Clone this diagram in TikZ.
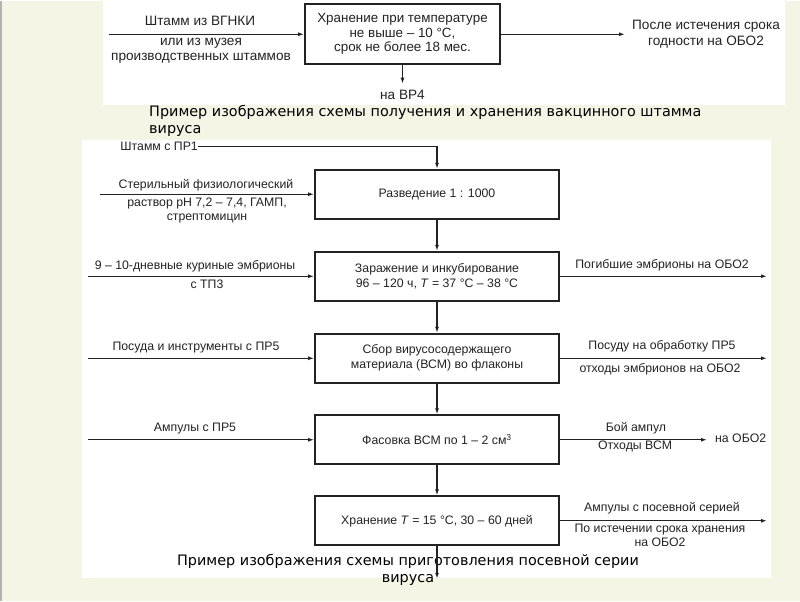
\documentclass[tikz,border=0pt]{standalone}
\usepackage{fontspec}
\setmainfont{Liberation Sans}
\newfontfamily\capfont{DejaVu Sans}
\usetikzlibrary{arrows.meta}
\definecolor{slide}{RGB}{245,245,230}
\definecolor{ink}{RGB}{35,35,35}
\begin{document}
\begin{tikzpicture}[x=1pt, y=-1pt,
    >={Latex[length=6pt,width=4pt]},
    stage/.style={draw=ink, line width=1.8pt, minimum width=244pt, minimum height=49pt, align=center, text=ink, font=\fontsize{12.3}{15}\selectfont},
    keepbox/.style={draw=ink, line width=1.8pt, minimum width=195pt, minimum height=60pt, align=center, text=ink, font=\fontsize{13.4}{14.5}\selectfont},
    lbl/.style={align=center, inner sep=0pt, text=ink, font=\fontsize{12.3}{14}\selectfont},
    toplbl/.style={align=center, inner sep=0pt, text=ink, font=\fontsize{13.6}{15.5}\selectfont},
    flow/.style={->, draw=ink, line width=1.3pt},
    caption/.style={inner sep=0pt, font=\capfont\fontsize{14.4}{17}\selectfont}]
  \fill[slide] (0,0) rectangle (800,600);
  \draw[gray!60, line width=1.5pt] (1,0) -- (1,600);
  \fill[white] (103,0) rectangle (785,104);
  \fill[white] (82,139) rectangle (771,577);

  \node[keepbox] (keep) at (402.5,33.5) {Хранение при температуре\\не выше – 10 °C,\\срок не более 18 мес.};
  \coordinate (gnki) at (109,33.5);
  \coordinate (expired) at (625,33.5);
  \coordinate (vp4) at (402.5,83);
  \draw[flow] (gnki) -- (keep.west);
  \draw[flow] (keep.east) -- (expired);
  \draw[flow] (keep.south) -- (vp4);
  \node[toplbl] (gnkiA) at (200,20) {Штамм из ВГНКИ};
  \node[toplbl] (gnkiB) at (201,50) {или из музея\\производственных штаммов};
  \node[toplbl] (expiredlbl) at (706,33.5) {После истечения срока\\годности на ОБО2};
  \node[toplbl] (vp4lbl) at (402.5,94) {на ВР4};
  \node[caption, anchor=west, align=left] (capA) at (149,120.5) {Пример изображения схемы получения и хранения вакцинного штамма\\вируса};

  \node[stage] (dilute) at (437,193.5) {Разведение 1 : 1000};
  \node[stage] (infect) at (437,275.5) {Заражение и инкубирование\\96 – 120 ч, \textit{T} = 37 °C – 38 °C};
  \node[stage] (harvest) at (437,357.5) {Сбор вирусосодержащего\\материала (ВСМ) во флаконы};
  \node[stage] (dispense) at (437,439) {Фасовка ВСМ по 1 – 2 см\textsuperscript{3}};
  \node[stage] (store) at (437,520) {Хранение \textit{T} = 15 °C, 30 – 60 дней};
  \node[lbl, anchor=east] (strain) at (198,146) {Штамм с ПР1};
  \draw[flow] (strain.east) -| (dilute.north);
  \foreach \a/\b in {dilute/infect, infect/harvest, harvest/dispense, dispense/store}
    \draw[flow] (\a.south) -- (\b.north);

  \coordinate (salineIn) at (100,193.5);
  \coordinate (eggsIn) at (88,275.5);
  \coordinate (dishesIn) at (88,357.5);
  \coordinate (ampIn) at (88,439);
  \draw[flow] (salineIn) -- (dilute.west);
  \draw[flow] (eggsIn) -- (infect.west);
  \draw[flow] (dishesIn) -- (harvest.west);
  \draw[flow] (ampIn) -- (dispense.west);
  \node[lbl] (salineA) at (206,184.5) {Стерильный физиологический};
  \node[lbl] (salineB) at (207,210) {раствор рН 7,2 – 7,4, ГАМП,\\стрептомицин};
  \node[lbl] (eggsA) at (195,265.5) {9 – 10-дневные куриные эмбрионы};
  \node[lbl] (eggsB) at (207,283.5) {с ТП3};
  \node[lbl] (dishesA) at (196,347) {Посуда и инструменты с ПР5};
  \node[lbl] (ampA) at (195,427.5) {Ампулы с ПР5};

  \coordinate (deadOut) at (767,275.5);
  \coordinate (wasteOut) at (767,357.5);
  \coordinate (brokenOut) at (707,439);
  \coordinate (seedOut) at (767,520);
  \draw[flow] (infect.east) -- (deadOut);
  \draw[flow] (harvest.east) -- (wasteOut);
  \draw[flow] (dispense.east) -- (brokenOut);
  \draw[flow] (store.east) -- (seedOut);
  \node[lbl] (deadA) at (662,265) {Погибшие эмбрионы на ОБО2};
  \node[lbl] (wasteA) at (662,345.5) {Посуду на обработку ПР5};
  \node[lbl] (wasteB) at (660,368.5) {отходы эмбрионов на ОБО2};
  \node[lbl] (brokenA) at (636,427) {Бой ампул};
  \node[lbl] (brokenB) at (635,446) {Отходы ВСМ};
  \node[lbl, anchor=west] (brokenC) at (715,438) {на ОБО2};
  \node[lbl] (seedA) at (662,507.5) {Ампулы с посевной серией};
  \node[lbl] (seedB) at (660,535) {По истечении срока хранения\\на ОБО2};

  \node[caption, align=center] (capB) at (408,569.5) {Пример изображения схемы приготовления посевной серии\\вируса};
  \coordinate (seed) at (437,578);
  \draw[flow] (store.south) -- (seed);
\end{tikzpicture}
\end{document}
